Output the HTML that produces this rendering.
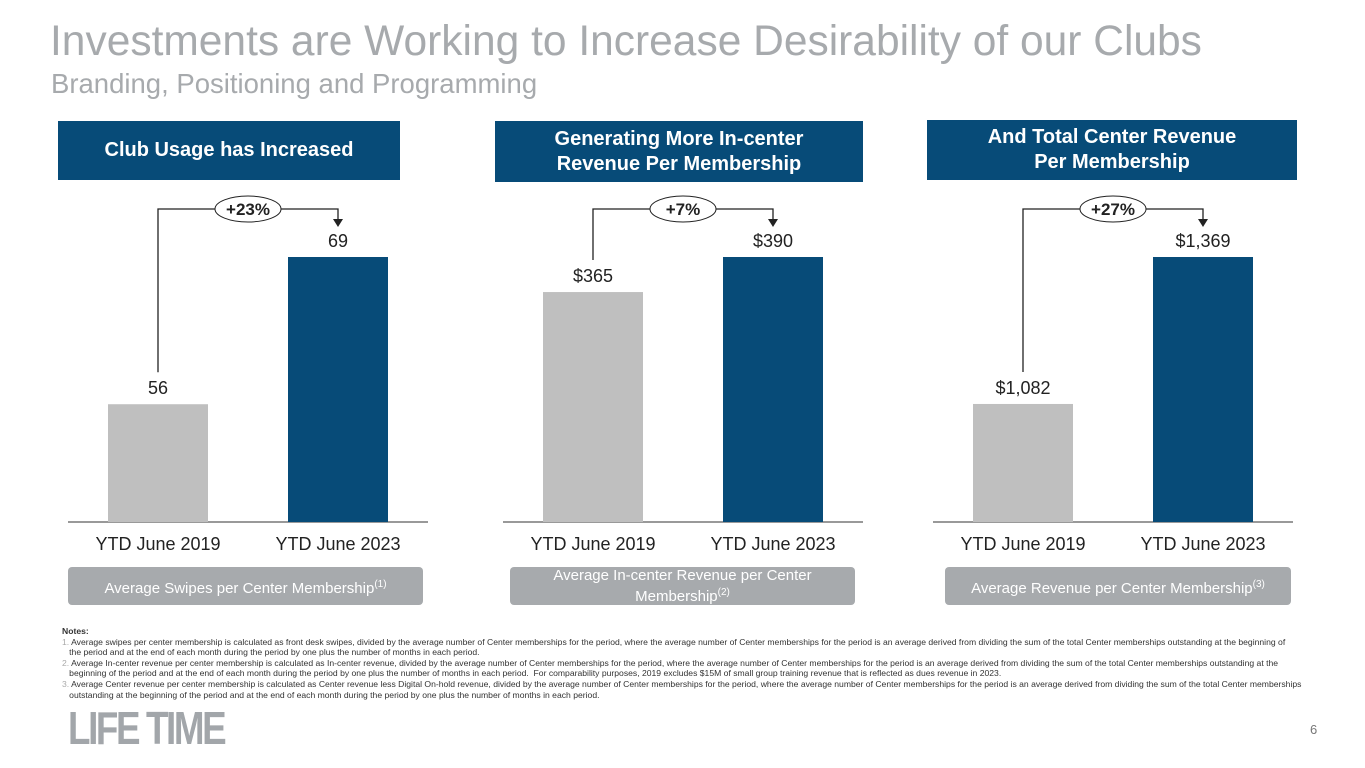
<!DOCTYPE html>
<html><head><meta charset="utf-8"><style>
body{margin:0;width:1365px;height:768px;background:#fff;font-family:"Liberation Sans",sans-serif;position:relative;overflow:hidden}
.abs{position:absolute}
.title{left:50px;top:18px;font-size:42.5px;color:#a7aaad}
.sub{left:51px;top:68px;font-size:27.5px;color:#a7aaad}
.hdr{background:#074b78;color:#fff;font-weight:bold;font-size:20px;display:flex;align-items:center;justify-content:center;text-align:center;line-height:25px}
.pill{background:#a7aaad;color:#fff;font-size:15px;display:flex;align-items:center;justify-content:center;text-align:center;border-radius:4px;line-height:17px}
.notes{left:62px;top:626px;width:1260px;font-size:8.6px;color:#333;line-height:10.6px;white-space:nowrap}
.logo{left:68px;top:701px;font-size:46px;font-weight:bold;color:#a2a6aa;letter-spacing:-3px;transform:scaleX(0.8);transform-origin:left}
</style></head><body>
<div class="abs title">Investments are Working to Increase Desirability of our Clubs</div>
<div class="abs sub">Branding, Positioning and Programming</div>
<div class="abs hdr" style="left:58px;top:121px;width:342px;height:59px">Club Usage has Increased</div>
<div class="abs hdr" style="left:495px;top:121px;width:368px;height:61px">Generating More In-center<br>Revenue Per Membership</div>
<div class="abs hdr" style="left:927px;top:120px;width:370px;height:60px">And Total Center Revenue<br>Per Membership</div>
<div class="abs pill" style="left:68px;top:567px;width:355px;height:38px"><span>Average Swipes per Center Membership<sup style="font-size:10px">(1)</sup></span></div>
<div class="abs pill" style="left:510px;top:567px;width:345px;height:38px"><span>Average In-center Revenue per Center<br>Membership<sup style="font-size:10px">(2)</sup></span></div>
<div class="abs pill" style="left:945px;top:567px;width:346px;height:38px"><span>Average Revenue per Center Membership<sup style="font-size:10px">(3)</sup></span></div>
<svg class="abs" style="left:0;top:0" width="1365" height="768" id="chart"></svg>
<div class="abs notes"><b>Notes:</b><br>
<span style="color:#aaa">1.</span> Average swipes per center membership is calculated as front desk swipes, divided by the average number of Center memberships for the period, where the average number of Center memberships for the period is an average derived from dividing the sum of the total Center memberships outstanding at the beginning of<br>&nbsp;&nbsp;&nbsp;the period and at the end of each month during the period by one plus the number of months in each period.<br>
<span style="color:#aaa">2.</span> Average In-center revenue per center membership is calculated as In-center revenue, divided by the average number of Center memberships for the period, where the average number of Center memberships for the period is an average derived from dividing the sum of the total Center memberships outstanding at the<br>&nbsp;&nbsp;&nbsp;beginning of the period and at the end of each month during the period by one plus the number of months in each period.&nbsp; For comparability purposes, 2019 excludes $15M of small group training revenue that is reflected as dues revenue in 2023.<br>
<span style="color:#aaa">3.</span> Average Center revenue per center membership is calculated as Center revenue less Digital On-hold revenue, divided by the average number of Center memberships for the period, where the average number of Center memberships for the period is an average derived from dividing the sum of the total Center memberships<br>&nbsp;&nbsp;&nbsp;outstanding at the beginning of the period and at the end of each month during the period by one plus the number of months in each period.</div>
<div class="abs logo">LIFE TIME</div>
<div class="abs" style="left:1310px;top:722px;font-size:13px;color:#777">6</div>
<script>
const categories=["YTD June 2019","YTD June 2023"];
const usageValues=[56,69];
const inCenterValues=[365,390];
const totalValues=[1082,1369];
const usageLabels=["56","69"];
const inCenterLabels=["$365","$390"];
const totalLabels=["$1,082","$1,369"];
const changeLabels=["+23%","+7%","+27%"];
const svg=document.getElementById('chart');
const NS="http://www.w3.org/2000/svg";
function mk(t,a){const e=document.createElementNS(NS,t);for(const k in a)e.setAttribute(k,a[k]);svg.appendChild(e);return e;}
const panels=[
 {x0:68,vals:usageValues,labs:usageLabels,min:45.6,max:69,name:'usage'},
 {x0:503,vals:inCenterValues,labs:inCenterLabels,min:201,max:390,name:'in-center'},
 {x0:933,vals:totalValues,labs:totalLabels,min:851.5,max:1369,name:'total'}];
const base=522,topY=257;
panels.forEach((p,pi)=>{
 const y=v=>base-(v-p.min)/(p.max-p.min)*(base-topY);
 const ax=mk('line',{x1:p.x0,x2:p.x0+360,y1:base,y2:base,stroke:'#333','stroke-width':1});
 
 
 const cx=[];
 p.vals.forEach((v,i)=>{
  const x=p.x0+40+i*180;cx.push(x+50);
  const r=mk('rect',{x:x,y:y(v),width:100,height:base-y(v),fill:i?'#074b78':'#bfbfbf'});
  
  
  const t=mk('text',{x:x+50,y:y(v)-10,'text-anchor':'middle','font-size':18,fill:'#222'});t.textContent=p.labs[i];
  
  
  const c=mk('text',{x:x+50,y:550,'text-anchor':'middle','font-size':18,fill:'#222'});c.textContent=categories[i];
  
  
 });
 const yb=209,y0=y(p.vals[0])-32;
 const br=mk('path',{d:`M${cx[0]} ${y0} V${yb} H${cx[1]} V${y(p.vals[1])-36}`,fill:'none',stroke:'#222','stroke-width':1.3});
 
 
 const ay=y(p.vals[1])-30;
 mk('path',{d:`M${cx[1]-5} ${ay-8} L${cx[1]+5} ${ay-8} L${cx[1]} ${ay} Z`,fill:'#222'});
 const mx=(cx[0]+cx[1])/2;
 const el=mk('ellipse',{cx:mx,cy:yb,rx:33,ry:13,fill:'#fff',stroke:'#222','stroke-width':1});
 
 
 const ct=mk('text',{x:mx,y:yb+6,'text-anchor':'middle','font-size':17,'font-weight':'bold',fill:'#222'});ct.textContent=changeLabels[pi];
 
 
});
</script>
</body></html>
